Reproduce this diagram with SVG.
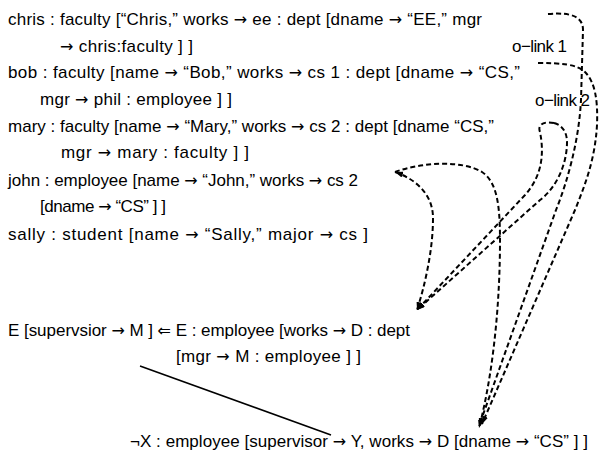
<svg xmlns="http://www.w3.org/2000/svg" width="600" height="462" viewBox="0 0 600 462">
<style>
text{font-family:"Liberation Sans",Arial,sans-serif;font-size:17px;fill:#000}
.a{font-family:"DejaVu Sans",sans-serif;font-size:16px}
.d{fill:none;stroke:#000;stroke-width:2;stroke-dasharray:5,3}
.s{fill:none;stroke:#000;stroke-width:1.6}
</style>
<defs>
<marker id="ah" markerUnits="userSpaceOnUse" markerWidth="8" markerHeight="6" refX="8" refY="3" orient="auto-start-reverse">
<path d="M0,0 L8,3 L0,6 z" fill="#000"/>
</marker>
</defs>
<rect width="600" height="462" fill="#fff"/>
<g id="chris">
<text x="8" y="25" textLength="474" lengthAdjust="spacing">chris : faculty [“Chris,”  works <tspan class="a">→</tspan> ee : dept [dname <tspan class="a">→</tspan> “EE,”  mgr</text>
<text x="60" y="52" textLength="133" lengthAdjust="spacing"><tspan class="a">→</tspan>  chris:faculty ] ]</text>
</g>
<g id="bob">
<text x="8" y="78" textLength="512" lengthAdjust="spacing">bob : faculty [name <tspan class="a">→</tspan> “Bob,”  works <tspan class="a">→</tspan> cs 1 : dept [dname <tspan class="a">→</tspan> “CS,”</text>
<text x="40" y="105" textLength="192" lengthAdjust="spacing">mgr <tspan class="a">→</tspan>  phil : employee ] ]</text>
</g>
<g id="mary">
<text x="8" y="132" textLength="486" lengthAdjust="spacing">mary : faculty [name <tspan class="a">→</tspan> “Mary,”  works <tspan class="a">→</tspan> cs 2 : dept [dname  “CS,”</text>
<text x="61" y="158" textLength="188" lengthAdjust="spacing">mgr <tspan class="a">→</tspan> mary : faculty ] ]</text>
</g>
<g id="john">
<text x="8" y="186" textLength="350" lengthAdjust="spacing">john : employee [name <tspan class="a">→</tspan> “John,”  works <tspan class="a">→</tspan> cs 2</text>
<text x="40" y="212" textLength="126" lengthAdjust="spacing">[dname <tspan class="a">→</tspan> “CS” ] ]</text>
</g>
<g id="sally">
<text x="8" y="240" textLength="360" lengthAdjust="spacing">sally : student [name <tspan class="a">→</tspan> “Sally,”  major <tspan class="a">→</tspan> cs ]</text>
</g>
<g id="rule">
<text x="8" y="336" textLength="402" lengthAdjust="spacing">E [supervsior <tspan class="a">→</tspan> M ] <tspan class="a">⇐</tspan> E : employee [works <tspan class="a">→</tspan> D : dept</text>
<text x="176" y="362" textLength="185" lengthAdjust="spacing">[mgr <tspan class="a">→</tspan> M : employee ] ]</text>
</g>
<g id="query">
<text x="130" y="447" textLength="458" lengthAdjust="spacing">¬X : employee [supervisor <tspan class="a">→</tspan> Y,  works <tspan class="a">→</tspan> D [dname <tspan class="a">→</tspan> “CS” ] ]</text>
</g>
<g id="olink1"><text x="512" y="52" textLength="55" lengthAdjust="spacing">o−link  1</text></g>
<g id="olink2"><text x="535" y="106" textLength="55" lengthAdjust="spacing">o−link  2</text></g>
<g id="connectors">
<path class="s" d="M140,366 L331,435"/>
<path class="d" marker-end="url(#ah)" d="M548,14 C572,12 583,17 583,30 L581,100 C579,140 568,180 556,210 L479,426"/>
<path class="d" marker-end="url(#ah)" d="M538,63 C560,63 577,64 585,72 C595,82 598,100 597,125 C595,160 585,185 575,210 L482,424"/>
<path class="d" marker-end="url(#ah)" d="M554,123 C545,121 537,124 540,132 C544,152 543,175 525,195 L417,310"/>
<path class="d" marker-end="url(#ah)" d="M554,123 C562,125 567,132 567,142 C567,165 556,188 540,200 L417,310"/>
<path class="d" marker-start="url(#ah)" marker-end="url(#ah)" d="M395,172 C418,180 433,196 433,218 C433,250 425,285 417,310"/>
<path class="d" marker-end="url(#ah)" d="M395,172 C422,162 462,160 482,172 C497,182 500,205 500,240 C500,300 494,370 479,428"/>
</g>
</svg>
